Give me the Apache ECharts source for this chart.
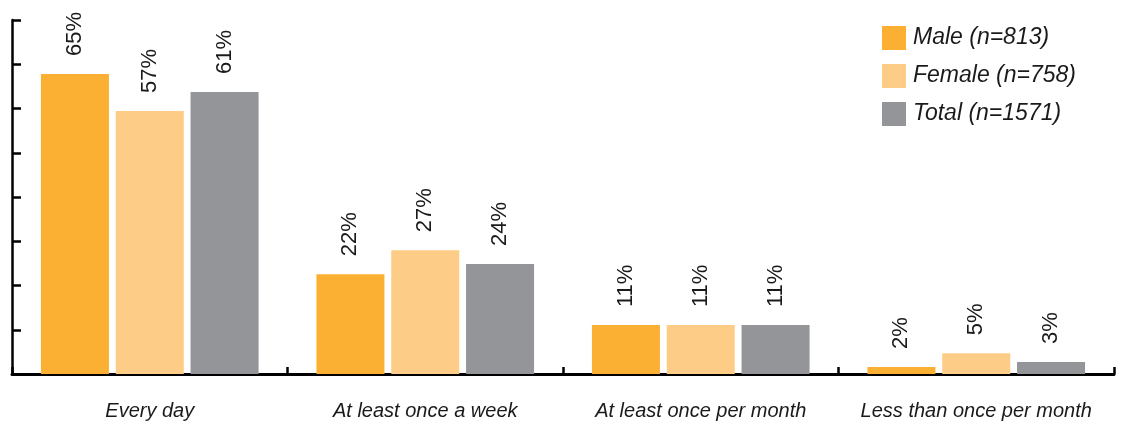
<!DOCTYPE html>
<html>
<head>
<meta charset="utf-8">
<script src="https://cdn.jsdelivr.net/npm/echarts@6/dist/echarts.min.js"></script>
<style>
  html, body { margin: 0; padding: 0; background: #fff; }
  #chart { width: 1146px; height: 425px; }
</style>
</head>
<body>
<div id="chart"></div>
<script>
// data
const categories = ['Every day', 'At least once a week', 'At least once per month', 'Less than once per month'];
const seriesNames = ['Male (n=813)', 'Female (n=758)', 'Total (n=1571)'];
const maleValues = [64.9, 21.6, 10.6, 1.5];
const femaleValues = [56.9, 26.8, 10.6, 4.5];
const totalValues = [61.0, 23.8, 10.6, 2.6];

const colors = ['#FBB034', '#FDCC86', '#939598'];
const font = '"Liberation Sans", Arial, sans-serif';

const chart = echarts.init(document.getElementById('chart'));

const labelStyle = {
  show: true,
  position: 'top',
  distance: 18,
  rotate: 90,
  align: 'left',
  verticalAlign: 'middle',
  fontFamily: font,
  fontSize: 22,
  color: '#1a1a1a',
  formatter: (p) => Math.round(p.value) + '%'
};

const makeSeries = (name, data, color) => ({
  name,
  type: 'bar',
  data,
  barGap: '10%',
  barCategoryGap: '21%',
  itemStyle: { color },
  label: labelStyle
});

chart.setOption({
  animation: false,
  legend: {
    orient: 'vertical',
    left: 877,
    top: 21,
    itemWidth: 24,
    itemHeight: 24,
    itemGap: 14,
    icon: 'rect',
    textStyle: { fontFamily: font, fontSize: 23, fontStyle: 'italic', color: '#1a1a1a', padding: [0, 0, 0, 2] }
  },
  grid: { left: 12, right: 32, top: 20, bottom: 51 },
  xAxis: {
    type: 'category',
    data: categories,
    axisLine: { lineStyle: { color: '#000', width: 3 } },
    axisTick: { show: true, interval: 0, inside: true, length: 7, lineStyle: { color: '#000', width: 2.5 } },
    axisLabel: { interval: 0, margin: 27, fontFamily: font, fontSize: 20, fontStyle: 'italic', color: '#1a1a1a' }
  },
  yAxis: {
    type: 'value',
    min: 0,
    max: 76.6,
    interval: 9.575,
    axisLine: { show: true, lineStyle: { color: '#000', width: 2.5 } },
    axisTick: { show: true, inside: true, length: 9, lineStyle: { color: '#000', width: 2.5 } },
    axisLabel: { show: false },
    splitLine: { show: false }
  },
  series: [
    makeSeries(seriesNames[0], maleValues, colors[0]),
    makeSeries(seriesNames[1], femaleValues, colors[1]),
    makeSeries(seriesNames[2], totalValues, colors[2])
  ]
});
</script>
</body>
</html>
